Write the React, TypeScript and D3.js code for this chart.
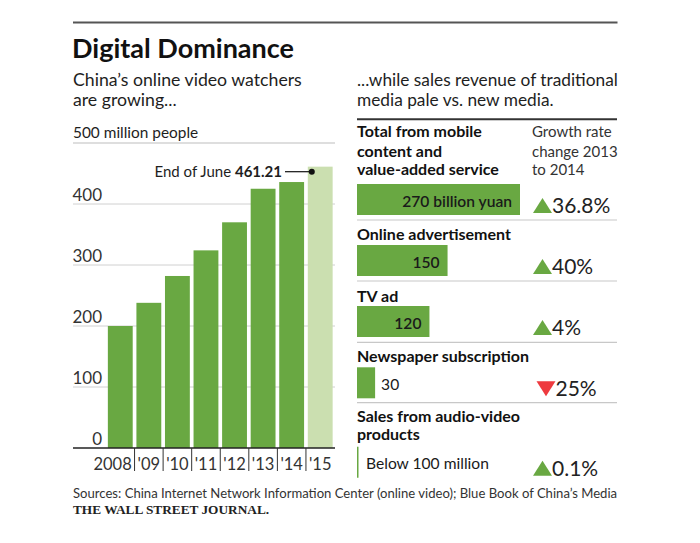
import React from "react";
import * as d3 from "d3";

const years = ["2008", "'09", "'10", "'11", "'12", "'13", "'14", "'15"];
const watchers = [200, 238, 282, 324, 370, 425, 436, 461.21];
const yTicks = [0, 100, 200, 300, 400];

const mediaLabels = [
  ["Total from mobile", "content and", "value-added service"],
  ["Online advertisement"],
  ["TV ad"],
  ["Newspaper subscription"],
  ["Sales from audio-video", "products"],
];
const mediaValues = [270, 150, 120, 30, 0];
const mediaValueText = ["270 billion yuan", "150", "120", "30", "Below 100 million"];
const growthText = ["36.8%", "40%", "4%", "25%", "0.1%"];
const growthUp = [true, true, true, false, true];

const GREEN = "#69a842";
const PALE = "#cbdfb0";
const RED = "#ee3a3f";
const TEXT = "#1e1e1e";
const FONT = "Lato, 'Noto Sans', sans-serif";

export default function App() {
  const W = 700, H = 543;
  const x = d3.scaleBand<string>().domain(years).range([105, 335.5]).paddingInner(0.13).paddingOuter(0.1);
  const y = d3.scaleLinear().domain([0, 500]).range([448, 143]);
  const xr = d3.scaleLinear().domain([0, 270]).range([357, 520]);

  const rowBarTop = [184, 245, 306, 367.3, 446.7];
  const rowBarH = 31;
  const rowHeaderBase = [[137, 156.7, 175], [240], [301.7], [361.7], [421.7, 440]];
  const sepY = [220, 281, 342.3, 402.7];

  const lastYear = years[years.length - 1];
  const lastX = x(lastYear)!;

  return (
    <svg width={W} height={H} style={{ position: "absolute", left: 0, top: 0, background: "#fff" }} fontFamily={FONT}>
      <rect x={0} y={0} width={W} height={H} fill="#fff" />
      <line x1={73} x2={617.5} y1={22.5} y2={22.5} stroke="#555" strokeWidth={2} />
      <text x={72} y={58} fontSize={27} fontWeight={700} fill="#111">Digital Dominance</text>

      <text x={73} y={86} fontSize={17.7} fill={TEXT}>China’s online video watchers</text>
      <text x={73} y={106} fontSize={17.7} fill={TEXT}>are growing...</text>
      <text x={73} y={138} fontSize={15.4} fill={TEXT}>500 million people</text>

      <line x1={73} x2={335} y1={y(500)} y2={y(500)} stroke="#bdbdbd" strokeWidth={1.2} />
      {yTicks.filter((t) => t > 0).map((t) => (
        <line key={t} x1={73} x2={335} y1={y(t)} y2={y(t)} stroke="#d0d0d0" strokeWidth={1} />
      ))}
      {yTicks.map((t) => (
        <text key={"l" + t} x={102} y={y(t) - 3} fontSize={17} textAnchor="end" fill="#333">{t}</text>
      ))}

      {years.map((yr, i) => (
        <rect key={yr} x={x(yr)} y={y(watchers[i])} width={x.bandwidth()} height={y(0) - y(watchers[i])}
          fill={i === years.length - 1 ? PALE : GREEN} />
      ))}

      <line x1={73} x2={335} y1={y(0)} y2={y(0)} stroke="#222" strokeWidth={1.5} />
      {years.slice(1).map((yr) => {
        const tx = x(yr)! - (x.step() - x.bandwidth()) / 2;
        return <line key={"t" + yr} x1={tx} x2={tx} y1={y(0)} y2={y(0) + 23} stroke="#333" strokeWidth={1} />;
      })}
      {years.map((yr, i) => (
        <text key={"x" + yr} x={i === 0 ? x(yr)! + x.bandwidth() - 1 : x(yr)! + x.bandwidth() / 2} y={470}
          fontSize={16.5} textAnchor={i === 0 ? "end" : "middle"} fill="#333">{yr}</text>
      ))}

      <text x={282} y={176.5} fontSize={15} textAnchor="end" fill={TEXT}>
        End of June <tspan fontWeight={700}>{watchers[watchers.length - 1]}</tspan>
      </text>
      <line x1={285} x2={lastX + 4} y1={171.7} y2={171.7} stroke="#111" strokeWidth={1.2} />
      <circle cx={lastX + 4} cy={171.7} r={3} fill="#111" />

      <text x={357} y={86} fontSize={17.3} fill={TEXT}>...while sales revenue of traditional</text>
      <text x={357} y={106} fontSize={17.3} fill={TEXT}>media pale vs. new media.</text>
      <line x1={357} x2={617} y1={119.3} y2={119.3} stroke="#333" strokeWidth={2} />

      {["Growth rate", "change 2013", "to 2014"].map((t, i) => (
        <text key={t} x={532} y={rowHeaderBase[0][i]} fontSize={15} fill="#333">{t}</text>
      ))}

      {mediaLabels.map((lines, r) => (
        <g key={"row" + r}>
          {lines.map((ln, j) => (
            <text key={ln} x={357} y={rowHeaderBase[r][j]} fontSize={16} fontWeight={700} fill="#111">{ln}</text>
          ))}
          {mediaValues[r] > 0 ? (
            <rect x={xr(0)} y={rowBarTop[r]} width={xr(mediaValues[r]) - xr(0)} height={rowBarH} fill={GREEN} />
          ) : (
            <line x1={xr(0) + 0.75} x2={xr(0) + 0.75} y1={rowBarTop[r]} y2={rowBarTop[r] + rowBarH} stroke={GREEN} strokeWidth={1.5} />
          )}
          {(() => {
            const inside = mediaValues[r] >= 100;
            const tx = inside ? xr(mediaValues[r]) - 8 : (mediaValues[r] > 0 ? xr(mediaValues[r]) + 6 : xr(0) + 9);
            return (
              <text x={tx} y={rowBarTop[r] + 22.5} fontSize={15.6} fontWeight={inside ? 600 : 400}
                textAnchor={inside ? "end" : "start"} fill="#1a1a1a">{mediaValueText[r]}</text>
            );
          })()}
          {(() => {
            const by = rowBarTop[r] + rowBarH - 2;
            const tx0 = growthUp[r] ? 533 : 536.5;
            const path = growthUp[r]
              ? `M${tx0},${by} L${tx0 + 19},${by} L${tx0 + 9.5},${by - 15} Z`
              : `M${tx0},${by - 15} L${tx0 + 19},${by - 15} L${tx0 + 9.5},${by} Z`;
            return (
              <g>
                <path d={path} fill={growthUp[r] ? GREEN : RED} />
                <text x={tx0 + 19} y={by} fontSize={21} fill="#222">{growthText[r]}</text>
              </g>
            );
          })()}
        </g>
      ))}
      {sepY.map((sy) => (
        <line key={"s" + sy} x1={357} x2={617} y1={sy} y2={sy} stroke="#c8c8c8" strokeWidth={1.2} />
      ))}

      <text x={73} y={498} fontSize={13.1} fill="#333">Sources: China Internet Network Information Center (online video); Blue Book of China’s Media</text>
      <text x={73} y={513.5} fontSize={13.3} fontWeight={700} fill="#222" fontFamily="'Liberation Serif', serif">THE WALL STREET JOURNAL.</text>
    </svg>
  );
}
